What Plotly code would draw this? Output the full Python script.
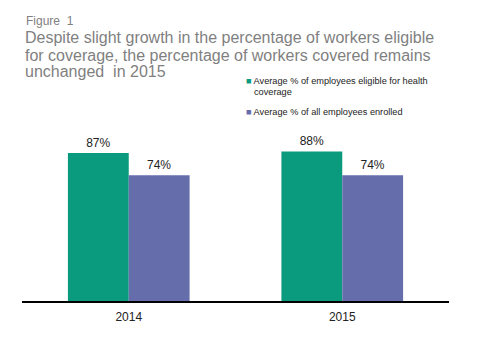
import plotly.graph_objects as go

categories = ["2014", "2015"]
eligible = [87, 88]
enrolled = [74, 74]
eligible_labels = ["87%", "88%"]
enrolled_labels = ["74%", "74%"]
series_names = ["Average % of employees eligible for health",
                "coverage",
                "Average % of all employees enrolled"]
title_lines = ["Despite slight growth in the percentage of workers eligible",
               "for coverage, the percentage of workers covered remains",
               "unchanged  in 2015"]
figure_label = "Figure  1"

GREEN = "#0a9b7e"
PURPLE = "#656dab"

fig = go.Figure()
fig.add_trace(go.Bar(
    x=categories, y=eligible, name=series_names[0],
    marker=dict(color=GREEN, line=dict(width=0)),
    text=eligible_labels, textposition="outside",
    textfont=dict(size=12, color="#222222"), cliponaxis=False,
))
fig.add_trace(go.Bar(
    x=categories, y=enrolled, name=series_names[2],
    marker=dict(color=PURPLE, line=dict(width=0)),
    text=enrolled_labels, textposition="outside",
    textfont=dict(size=12, color="#222222"), cliponaxis=False,
))

L, R, T, B = 22, 31, 131, 59
W, H = 480, 360
pw, ph = W - L - R, H - T - B


def px(x):
    return (x - L) / pw


def py(y):
    return (H - B - y) / ph


anns = []
anns.append(dict(text=figure_label, x=px(24), y=py(21), xanchor="left",
                 yanchor="middle", font=dict(size=12, color="#7f7f7f")))
for i, line in enumerate(title_lines):
    anns.append(dict(text=line, x=px(23), y=py(38 + 17 * i), xanchor="left",
                     yanchor="middle", font=dict(size=16, color="#7f7f7f")))
anns.append(dict(text=f"<span style='color:{GREEN}'>■</span> " + series_names[0],
                 x=px(244), y=py(81.5), xanchor="left", yanchor="middle",
                 font=dict(size=9.2, color="#222222")))
anns.append(dict(text=series_names[1], x=px(252), y=py(92.5),
                 xanchor="left", yanchor="middle",
                 font=dict(size=9.2, color="#222222")))
anns.append(dict(text=f"<span style='color:{PURPLE}'>■</span> " + series_names[2],
                 x=px(244), y=py(111.5), xanchor="left", yanchor="middle",
                 font=dict(size=9.2, color="#222222")))
for a in anns:
    a.update(xref="paper", yref="paper", showarrow=False)

fig.update_layout(
    width=W, height=H,
    margin=dict(l=L, r=R, t=T, b=B, autoexpand=False),
    paper_bgcolor="white", plot_bgcolor="white",
    font=dict(family="Liberation Sans, Arial, sans-serif", color="#222222"),
    barmode="group", bargap=0.43, bargroupgap=0,
    showlegend=False,
    xaxis=dict(showline=True, linecolor="black", linewidth=1.5,
               ticks="", tickfont=dict(size=12, color="#222222"),
               ticklabelstandoff=4, showgrid=False),
    yaxis=dict(range=[0, 100], visible=False, showgrid=False),
    annotations=anns,
)
fig.write_html("out.html", post_script="document.body.style.margin='0';",
               config={"displayModeBar": False})
